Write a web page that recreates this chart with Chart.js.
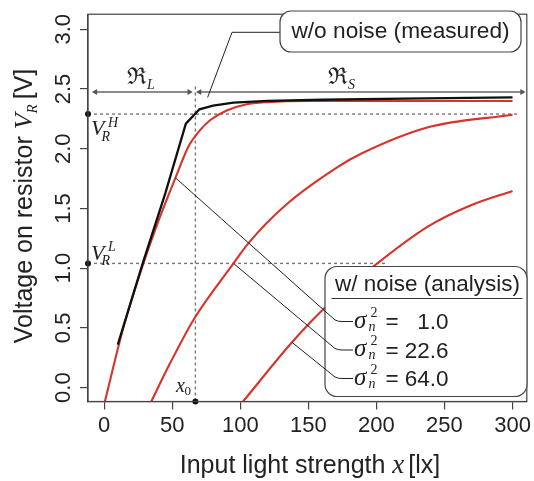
<!DOCTYPE html>
<html><head><meta charset="utf-8">
<script src="https://cdn.jsdelivr.net/npm/chart.js@4.4.1/dist/chart.umd.min.js"></script>
<style>html,body{margin:0;padding:0;background:#fff;}#wrap{width:534px;height:481px;}</style>
</head><body><div id="wrap"><canvas id="c" width="534" height="481"></canvas></div>
<script>
// ---- data ----
const xTicks = [0, 50, 100, 150, 200, 250, 300];
const yTicks = [0.0, 0.5, 1.0, 1.5, 2.0, 2.5, 3.0];

const measuredX = [10, 28, 45, 60, 70, 80, 95, 120, 160, 220, 300];
const measuredY = [0.36, 1.03, 1.63, 2.21, 2.33, 2.36, 2.385, 2.40, 2.41, 2.42, 2.43];

const noise1X = [0.5, 14, 28.5, 41, 52.5, 62, 70, 78, 90, 104, 120, 150, 200, 300];
const noise1Y = [-0.116, 0.5, 1.03, 1.43, 1.76, 2.02, 2.15, 2.24, 2.32, 2.37, 2.39, 2.40, 2.40, 2.40];

const noise2X = [34.6, 48, 66, 95, 106, 133, 172, 189, 238, 300];
const noise2Y = [-0.116, 0.195, 0.575, 1.04, 1.21, 1.525, 1.85, 1.96, 2.18, 2.285];

const noise3X = [102, 138, 161, 194, 238, 269, 300];
const noise3Y = [-0.116, 0.38, 0.656, 0.98, 1.35, 1.525, 1.647];

const noiseVariances = ['1.0', '22.6', '64.0'];
const vrH = 2.29, vrL = 1.04, x0 = 67;
const regionArrowY = 2.475;
const regionL = [-6.5, 62.5];
const regionS = [70, 307];
const vrHEnd = 305, vrLEnd = 208, x0Top = 2.525;
// anchor points of leader lines on the curves (data units)
const measuredAnchor = [76, 2.43];
const noiseAnchors = [[52.4, 1.756], [95.3, 1.037], [137.9, 0.38]];

const xMin = -11.9, xMax = 310.5, yMin = -0.116, yMax = 3.126;

const pts = (xs, ys) => xs.map((x, i) => ({x, y: ys[i]}));
const RED = '#d8322a';
const SANS = "'Liberation Sans', Arial, sans-serif";
const SERIF = "'Liberation Serif', 'Times New Roman', serif";

function runs(ctx, parts, x, y, align) {
  let w = 0;
  parts.forEach(p => { ctx.font = p.font; w += ctx.measureText(p.t).width + (p.gap || 0); });
  let cx = align === 'center' ? x - w / 2 : x;
  parts.forEach(p => { ctx.font = p.font; ctx.fillText(p.t, cx, y + (p.dy || 0)); cx += ctx.measureText(p.t).width + (p.gap || 0); });
}
function rr(ctx, x, y, w, h, r) {
  ctx.beginPath();
  ctx.moveTo(x + r, y); ctx.lineTo(x + w - r, y); ctx.arcTo(x + w, y, x + w, y + r, r);
  ctx.lineTo(x + w, y + h - r); ctx.arcTo(x + w, y + h, x + w - r, y + h, r);
  ctx.lineTo(x + r, y + h); ctx.arcTo(x, y + h, x, y + h - r, r);
  ctx.lineTo(x, y + r); ctx.arcTo(x, y, x + r, y, r); ctx.closePath();
}

const annot = {
  id: 'annot',
  afterDraw(chart) {
    const ctx = chart.ctx, xs = chart.scales.x, ys = chart.scales.y, a = chart.chartArea;
    const px = v => xs.getPixelForValue(v), py = v => ys.getPixelForValue(v);
    ctx.save();
    // frame
    ctx.strokeStyle = '#444'; ctx.lineWidth = 1.2;
    ctx.strokeRect(a.left, a.top, a.right - a.left, a.bottom - a.top);

    ctx.fillStyle = '#222'; ctx.textBaseline = 'alphabetic'; ctx.textAlign = 'left';
    // V_R^H / V_R^L labels
    const vl = (yb, sup) => {
      ctx.font = 'italic 22px ' + SERIF; ctx.fillText('V', 91, yb);
      ctx.font = 'italic 14px ' + SERIF; ctx.fillText(sup, 108, yb - 8.5);
      ctx.fillText('R', 101.5, yb + 5.5);
    };
    vl(py(vrH) + 21, 'H');
    vl(py(vrL) - 3.5, 'L');
    // x0
    ctx.font = 'italic 20px ' + SERIF; ctx.fillText('x', px(x0) - 19.5, a.bottom - 9.5);
    ctx.font = '13px ' + SERIF; ctx.fillText('0', px(x0) - 11, a.bottom - 6.5);
    // region labels
    const rl = (xc, sub) => {
      ctx.font = "23px 'DejaVu Serif', " + SERIF; ctx.fillText('\u211C', xc, py(regionArrowY) - 8);
      ctx.font = 'italic 14px ' + SERIF; ctx.fillText(sub, xc + 20, py(regionArrowY) - 2.5);
    };
    rl(127, 'L');
    rl(328, 'S');

    // leader: measured
    ctx.strokeStyle = '#222'; ctx.lineWidth = 1;
    ctx.beginPath();
    ctx.moveTo(px(measuredAnchor[0]), py(measuredAnchor[1]));
    ctx.lineTo(232, 32.3); ctx.lineTo(280, 32.3); ctx.stroke();
    // box 1
    ctx.strokeStyle = '#444'; ctx.lineWidth = 1.2;
    rr(ctx, 280, 11, 241, 41, 11); ctx.fillStyle = '#fff'; ctx.fill(); ctx.stroke();
    ctx.fillStyle = '#222'; ctx.font = '22.7px ' + SANS; ctx.textBaseline = 'middle';
    ctx.textAlign = 'center'; ctx.fillText('w/o noise (measured)', 400.5, 32);

    // box 2 (white fill hides the curves behind it)
    ctx.strokeStyle = '#444'; ctx.lineWidth = 1.2;
    rr(ctx, 325, 266.5, 202, 130, 12); ctx.fillStyle = '#fff'; ctx.fill(); ctx.stroke();
    // leaders for noise
    const entryY = [321, 349.5, 378];
    ctx.strokeStyle = '#222'; ctx.lineWidth = 1;
    noiseAnchors.forEach((an, i) => {
      ctx.beginPath();
      ctx.moveTo(px(an[0]), py(an[1]));
      ctx.lineTo(335, entryY[i] - 1); ctx.quadraticCurveTo(338, entryY[i] + 0.5, 342, entryY[i] + 0.5);
      ctx.lineTo(353, entryY[i] + 0.5);
      ctx.stroke();
    });
    ctx.fillStyle = '#222'; ctx.font = '22.5px ' + SANS; ctx.textAlign = 'center';
    ctx.fillText('w/ noise (analysis)', 427.5, 285);
    ctx.beginPath(); ctx.moveTo(331.5, 298.5); ctx.lineTo(522.5, 298.5); ctx.strokeStyle = '#333'; ctx.stroke();
    noiseVariances.forEach((v, i) => {
      const y = entryY[i];
      ctx.textAlign = 'left'; ctx.textBaseline = 'alphabetic';
      ctx.font = 'italic 25px ' + SERIF; ctx.fillText('\u03C3', 354, y + 6.5);
      ctx.font = '14px ' + SERIF; ctx.fillText('2', 370.5, y - 4.5);
      ctx.font = 'italic 14px ' + SERIF; ctx.fillText('n', 368.5, y + 9.5);
      ctx.font = '22.5px ' + SANS; ctx.fillText('=', 385.5, y + 8);
      ctx.textAlign = 'right'; ctx.fillText(v, 448.5, y + 8);
    });

    // axis titles
    ctx.fillStyle = '#222'; ctx.textAlign = 'left'; ctx.textBaseline = 'alphabetic';
    runs(ctx, [
      {t: 'Input light strength ', font: '25px ' + SANS},
      {t: 'x', font: 'italic 27px ' + SERIF, gap: 4},
      {t: '[lx]', font: '25px ' + SANS}
    ], 310, 473.3, 'center');
    ctx.save();
    ctx.translate(32, 206); ctx.rotate(-Math.PI / 2);
    runs(ctx, [
      {t: 'Voltage on resistor ', font: '25px ' + SANS},
      {t: 'V', font: 'italic 26px ' + SERIF},
      {t: 'R', font: 'italic 15px ' + SERIF, dy: 5, gap: 5},
      {t: '[V]', font: '25px ' + SANS}
    ], 0, 0, 'center');
    ctx.restore();
    ctx.restore();
  }
};

const dotted = {borderColor: '#777', borderWidth: 1.4, borderDash: [3, 3], pointRadius: 0, fill: false, order: 6};
const arrowDs = {borderColor: '#666', backgroundColor: '#555', borderWidth: 1.4, pointStyle: 'triangle',
  pointRadius: 3.5, pointBorderWidth: 0, pointRotation: [-90, 90], order: 3, clip: false};

new Chart(document.getElementById('c'), {
  type: 'line',
  data: {
    datasets: [
      {label: 'w/o noise (measured)', data: pts(measuredX, measuredY), borderColor: '#111', borderWidth: 2.3,
        pointRadius: 0, tension: 0, order: 0},
      {label: 'sigma 1.0', data: pts(noise1X, noise1Y), borderColor: RED, borderWidth: 2.1, pointRadius: 0,
        cubicInterpolationMode: 'monotone', order: 1},
      {label: 'sigma 22.6', data: pts(noise2X, noise2Y), borderColor: RED, borderWidth: 2.1, pointRadius: 0,
        cubicInterpolationMode: 'monotone', order: 1},
      {label: 'sigma 64.0', data: pts(noise3X, noise3Y), borderColor: RED, borderWidth: 2.1, pointRadius: 0,
        cubicInterpolationMode: 'monotone', order: 1},
      Object.assign({label: 'VRH', data: [{x: xMin, y: vrH}, {x: vrHEnd, y: vrH}]}, dotted),
      Object.assign({label: 'VRL', data: [{x: xMin, y: vrL}, {x: vrLEnd, y: vrL}]}, dotted),
      Object.assign({label: 'x0', data: [{x: x0, y: yMin}, {x: x0, y: x0Top}]}, dotted),
      Object.assign({label: 'RL', data: [{x: regionL[0], y: regionArrowY}, {x: regionL[1], y: regionArrowY}]}, arrowDs),
      Object.assign({label: 'RS', data: [{x: regionS[0], y: regionArrowY}, {x: regionS[1], y: regionArrowY}]}, arrowDs),
      {label: 'dots', data: [{x: xMin, y: vrH}, {x: xMin, y: vrL}, {x: x0, y: yMin}], showLine: false,
        pointRadius: 3, backgroundColor: '#111', borderWidth: 0, clip: false, order: 0}
    ]
  },
  options: {
    responsive: false, animation: false, devicePixelRatio: 1,
    layout: {padding: {left: 0, top: 3.5, right: 3.5, bottom: 0}},
    plugins: {legend: {display: false}, tooltip: {enabled: false}},
    scales: {
      x: {
        type: 'linear', min: xMin, max: xMax,
        afterBuildTicks: s => { s.ticks = xTicks.map(v => ({value: v})); },
        afterFit: s => { s.height = 79.5; },
        border: {display: true, color: '#444', width: 1.2},
        grid: {display: true, drawOnChartArea: false, drawTicks: true, tickLength: 8, color: '#444', lineWidth: 1.2},
        ticks: {font: {family: SANS, size: 22}, color: '#222', padding: 3, maxRotation: 0, autoSkip: false}
      },
      y: {
        type: 'linear', min: yMin, max: yMax,
        afterBuildTicks: s => { s.ticks = yTicks.map(v => ({value: v})); },
        afterFit: s => { s.width = 88; },
        border: {display: true, color: '#444', width: 1.2},
        grid: {display: true, drawOnChartArea: false, drawTicks: true, tickLength: 8, color: '#444', lineWidth: 1.2},
        ticks: {font: {family: SANS, size: 22}, color: '#222', padding: 1, minRotation: 90, maxRotation: 90,
          crossAlign: 'center', autoSkip: false, callback: v => Number(v).toFixed(1)}
      }
    }
  },
  plugins: [annot]
});
</script>
</body></html>
